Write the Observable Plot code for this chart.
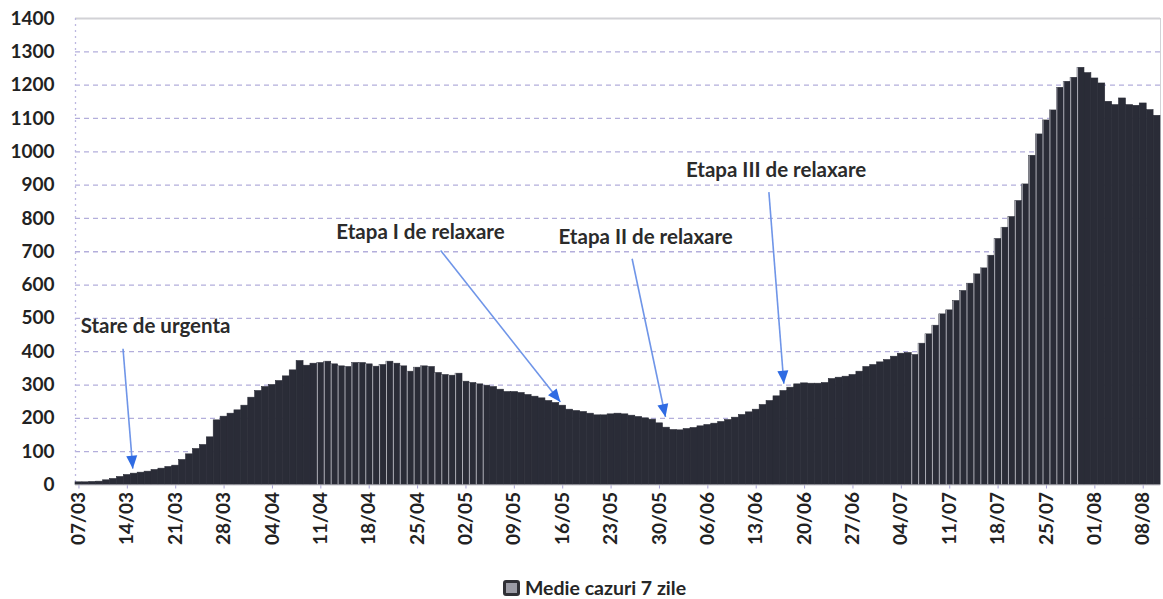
<!DOCTYPE html>
<html><head><meta charset="utf-8">
<script src="https://cdn.jsdelivr.net/npm/d3@7"></script>
<script src="https://cdn.jsdelivr.net/npm/@observablehq/plot@0.6"></script>
<style>
body{margin:0;background:#fff;font-family:Lato,sans-serif;}
#chart{width:1163px;height:599px;position:relative;overflow:hidden}
#chart svg{position:absolute;left:0;top:0}
.legend{position:absolute;left:0;top:578px;width:1163px;height:20px;display:flex;justify-content:center;align-items:center;font:bold 19.5px Lato,sans-serif;color:#262626;padding-left:26px;box-sizing:border-box;line-height:20px}
.sw{width:11px;height:10px;border:3px solid #303036;border-radius:3px;background:#9b9ba5;margin-right:5px}
</style></head><body><div id="chart"></div>
<script>
// ---- data ----
const startDate = "2020-03-07";
const values = [
  8, 8, 9, 10, 14, 18, 24, 30, 34, 37,
  40, 45, 49, 54, 58, 75, 92, 108, 120, 143,
  194, 205, 214, 224, 238, 262, 282, 294, 300, 312,
  326, 344, 372, 358, 364, 366, 370, 362, 356, 354,
  366, 366, 362, 355, 360, 370, 364, 356, 340, 352,
  356, 354, 336, 330, 328, 334, 310, 306, 302, 298,
  294, 286, 279, 279, 276, 270, 265, 260, 252, 246,
  238, 226, 222, 219, 214, 209, 209, 212, 214, 212,
  208, 204, 200, 196, 185, 172, 165, 164, 168, 171,
  176, 180, 184, 189, 195, 202, 210, 218, 226, 240,
  252, 266, 282, 292, 302, 305, 304, 304, 306, 318,
  322, 325, 330, 340, 354, 360, 368, 375, 385, 394,
  396, 390, 424, 452, 478, 512, 524, 552, 582, 604,
  632, 650, 688, 738, 772, 804, 852, 902, 988, 1052,
  1094, 1124, 1192, 1210, 1222, 1252, 1236, 1220, 1205, 1150,
  1140, 1160, 1140, 1138, 1145, 1125, 1108
];
const tickLabels = ["07/03","14/03","21/03","28/03","04/04","11/04","18/04","25/04","02/05","09/05","16/05","23/05","30/05","06/06","13/06","20/06","27/06","04/07","11/07","18/07","25/07","01/08","08/08"];
const yTicks = [0,100,200,300,400,500,600,700,800,900,1000,1100,1200,1300,1400];
const seriesName = "Medie cazuri 7 zile";

const annoLabels = ["Stare de urgenta","Etapa I de relaxare","Etapa II de relaxare","Etapa III de relaxare"];
const annoDates  = ["2020-03-18T02:00Z","2020-04-25T10:00Z","2020-05-28T00:00Z","2020-06-15T21:00Z"];
const annoValues = [476, 758, 743, 944];

const arrowFromDates  = ["2020-03-13T09:00Z","2020-04-28T08:00Z","2020-05-26T01:00Z","2020-06-14T20:00Z"];
const arrowFromValues = [409, 704, 679, 879];
const arrowToDates    = ["2020-03-14T19:00Z","2020-05-15T16:00Z","2020-05-30T21:00Z","2020-06-17T00:00Z"];
const arrowToValues   = [49, 249, 204, 304];

// index ranges where the source shows light separators between bars
const stripeRanges = [[35,59],[121,145]];

// ---- build ----
const t0 = d3.utcParse("%Y-%m-%d")(startDate);
const data = values.map((v,i)=>({date:d3.utcDay.offset(t0,i), value:v, i}));
const ticks = tickLabels.map(s=>{const [d,m]=s.split("/");return new Date(Date.UTC(2020,+m-1,+d));});
const xStart = d3.utcHour.offset(data[0].date,-12);
const xEnd = d3.utcHour.offset(data[data.length-1].date,12);
const annos = annoLabels.map((t,i)=>({t, date:new Date(annoDates[i]), v:annoValues[i]}));
const arrows = arrowFromDates.map((d,i)=>({x1:new Date(d), y1:arrowFromValues[i], x2:new Date(arrowToDates[i]), y2:arrowToValues[i]}));
const stripes = data.filter(d=>stripeRanges.some(([a,b])=>d.i>=a&&d.i<=b));

const plot = Plot.plot({
  width:1163, height:565,
  marginLeft:75, marginRight:3, marginTop:18, marginBottom:80.5,
  style:{fontFamily:"Lato, sans-serif", fontSize:"19px", fontWeight:"bold", color:"#222", background:"transparent"},
  x:{type:"utc", domain:[xStart,xEnd], ticks:ticks, tickFormat:d3.utcFormat("%d/%m"), tickRotate:-90, tickSize:4, tickPadding:3, label:null},
  y:{domain:[0,1400], ticks:yTicks, tickFormat:d3.format("d"), tickSize:0, tickPadding:21, label:null},
  marks:[
    Plot.ruleY(yTicks.filter(v=>v>0&&v<1400), {stroke:"#b3aedb", strokeDasharray:"5,4", strokeWidth:1.3}),
    Plot.ruleY([1400], {stroke:"#d2d2d6", strokeWidth:2}),
    Plot.ruleX([xStart], {stroke:"#bdb8e0", strokeDasharray:"2,4", strokeWidth:1.3}),
    Plot.ruleX([xEnd], {stroke:"#d2d2d6", strokeWidth:1}),
    Plot.rectY(data, {x1:d=>d3.utcHour.offset(d.date,-12), x2:d=>d3.utcHour.offset(d.date,12), y:"value", fill:"#2a2c37", stroke:"#2a2c37", strokeWidth:0.6}),
    Plot.ruleX(stripes, {x:d=>d3.utcHour.offset(d.date,-12), y1:0, y2:"value", stroke:"#c4c4cc", strokeWidth:1, strokeOpacity:0.85}),
    Plot.ruleY([0], {stroke:"#c4c4ca", strokeWidth:1}),
    Plot.link(arrows, {x1:"x1", y1:"y1", x2:"x2", y2:"y2", stroke:"#6f95e8", strokeWidth:1.6, markerEnd:"arrow"}),
    Plot.text(annos, {x:"date", y:"v", text:"t", fontSize:20.5, fontWeight:"bold", fill:"#2b2b2b"})
  ]
});

// filled arrow heads
plot.querySelectorAll("marker").forEach(m=>{
  m.setAttribute("viewBox","-14 -7 16 14");
  m.setAttribute("markerUnits","userSpaceOnUse");
  m.setAttribute("markerWidth","16");
  m.setAttribute("markerHeight","14");
  m.setAttribute("fill","#2f6be3");
  m.setAttribute("stroke","none");
  const p = m.querySelector("path");
  if (p) p.setAttribute("d","M-13,-5.5L0,0L-13,5.5Z");
});
// lavender x tick marks
plot.querySelectorAll('[aria-label="x-axis tick"] path, [aria-label="x-axis"] .tick line').forEach(e=>e.setAttribute("stroke","#a9a4d6"));

const chart = document.getElementById("chart");
chart.appendChild(plot);
const lg = document.createElement("div");
lg.className = "legend";
lg.innerHTML = '<span class="sw"></span><span></span>';
lg.lastChild.textContent = seriesName;
chart.appendChild(lg);
</script></body></html>
